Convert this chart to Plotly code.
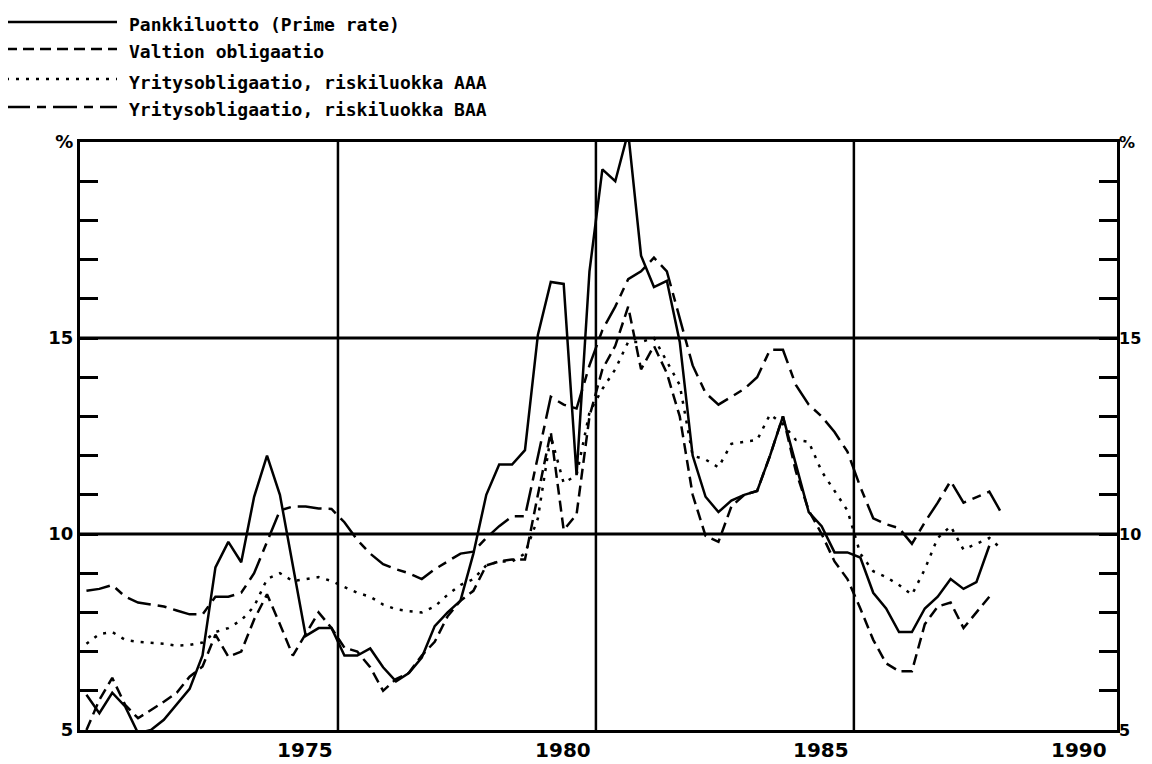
import plotly.graph_objects as go

# ---- data (quarterly, 1971Q1 ... 1988Q4), percent ----
quarters = [f"{1971 + i // 4}Q{i % 4 + 1}" for i in range(72)]

prime_rate = [5.9, 5.43, 5.95, 5.6, 4.92, 5.0, 5.26, 5.65, 6.05, 6.9, 9.15, 9.8,
              9.28, 10.95, 12.0, 11.0, 9.2, 7.4, 7.6, 7.6, 6.9, 6.9, 7.08, 6.6,
              6.24, 6.45, 6.85, 7.65, 8.0, 8.3, 9.5, 11.0, 11.77, 11.77, 12.14, 15.08,
              16.43, 16.38, 11.5, 16.7, 19.3, 19.0, 20.25, 17.1, 16.3, 16.46, 14.9, 12.0,
              10.95, 10.56, 10.85, 11.0, 11.1, 12.0, 13.0, 11.8, 10.56, 10.2, 9.53, 9.53,
              9.4, 8.5, 8.1, 7.5, 7.5, 8.1, 8.4, 8.85, 8.6, 8.77, 9.7, None]

government_bond = [5.0, 5.77, 6.33, 5.64, 5.3, 5.5, 5.72, 5.95, 6.36, 6.62, 7.43, 6.87,
                   7.0, 7.82, 8.46, 7.7, 6.9, 7.45, 8.0, 7.6, 7.1, 7.0, 6.6, 6.0,
                   6.3, 6.46, 6.9, 7.25, 7.9, 8.3, 8.55, 9.2, 9.3, 9.35, 9.35, 11.0,
                   12.6, 10.1, 10.5, 13.0, 14.2, 14.8, 15.8, 14.2, 14.8, 14.1, 13.0, 11.0,
                   9.95, 9.8, 10.7, 11.0, 11.1, 12.0, 13.0, 11.6, 10.6, 10.0, 9.3, 8.85,
                   8.1, 7.3, 6.7, 6.5, 6.5, 7.7, 8.15, 8.25, 7.6, 8.0, 8.4, None]

corporate_aaa = [7.2, 7.45, 7.5, 7.3, 7.25, 7.23, 7.2, 7.15, 7.17, 7.23, 7.5, 7.6,
                 7.8, 8.15, 8.85, 9.0, 8.8, 8.85, 8.9, 8.8, 8.65, 8.5, 8.4, 8.2,
                 8.08, 8.03, 8.0, 8.15, 8.45, 8.7, 8.85, 9.2, 9.3, 9.3, 9.5, 10.4,
                 12.5, 11.3, 11.5, 13.1, 13.7, 14.2, 14.9, 14.9, 15.0, 14.4, 13.8, 12.0,
                 11.9, 11.7, 12.3, 12.35, 12.4, 13.05, 12.8, 12.4, 12.35, 11.6, 11.1, 10.6,
                 9.5, 9.05, 8.9, 8.7, 8.45, 9.1, 9.9, 10.2, 9.6, 9.75, 9.9, 9.6]

corporate_baa = [8.55, 8.6, 8.7, 8.4, 8.25, 8.2, 8.15, 8.05, 7.95, 7.95, 8.4, 8.4,
                 8.5, 9.0, 9.8, 10.6, 10.7, 10.7, 10.65, 10.64, 10.3, 9.85, 9.5, 9.23,
                 9.1, 9.0, 8.85, 9.1, 9.3, 9.5, 9.55, 9.9, 10.2, 10.45, 10.45, 12.0,
                 13.5, 13.3, 13.2, 14.3, 15.2, 15.8, 16.5, 16.7, 17.05, 16.7, 15.5, 14.3,
                 13.6, 13.3, 13.5, 13.7, 14.0, 14.7, 14.7, 13.8, 13.3, 13.0, 12.6, 12.1,
                 11.2, 10.4, 10.25, 10.15, 9.75, 10.3, 10.8, 11.35, 10.8, 10.95, 11.08, 10.5]

series_names = ["Pankkiluotto (Prime rate)", "Valtion obligaatio",
                "Yritysobligaatio, riskiluokka AAA", "Yritysobligaatio, riskiluokka BAA"]

x_tick_years = [1975, 1980, 1985, 1990]
x_grid_years = [1976, 1981, 1986]
y_tick_values = list(range(5, 21))
y_labelled = {5: "5", 10: "10", 15: "15", 20: "%"}
y_grid_values = [10, 15]

# quarter midpoints as decimal years
x_vals = [int(q[:4]) + (int(q[-1]) - 0.5) / 4 for q in quarters]

# ---- styles ----
dashes = ["solid", "11px,6px", "3px,7px", "24px,7px,9px,7px"]
FONT_MONO = "DejaVu Sans Mono"
FONT_AX = "DejaVu Sans"
LW = 2.5
tick_font = dict(family=FONT_AX, size=18, color="black", weight="bold")
right_font = dict(family=FONT_AX, size=16, color="black", weight="bold")

# the page body has an 8px margin: the figure is made 8px smaller and shifted accordingly
BODY = 8
FIG_W, FIG_H = 1152 - BODY, 764 - BODY
PLOT_L, PLOT_R, PLOT_T, PLOT_B = 80 - BODY, 1117 - BODY, 142 - BODY, 730 - BODY
plot_w, plot_h = float(PLOT_R - PLOT_L), float(PLOT_B - PLOT_T)

fig = go.Figure()
all_series = [prime_rate, government_bond, corporate_aaa, corporate_baa]
for k, (name, vals) in enumerate(zip(series_names, all_series)):
    fig.add_trace(go.Scatter(
        x=x_vals, y=vals, mode="lines", name=name,
        line=dict(color="black", width=LW, dash=dashes[k]),
        connectgaps=False, showlegend=False,
        yaxis="y2" if k == 3 else "y",
    ))

ytext = [y_labelled.get(v, "") for v in y_tick_values]

axis_common = dict(range=[5, 20], tickmode="array", tickvals=y_tick_values,
                   ticks="inside", ticklen=18, tickwidth=3, tickcolor="black",
                   showgrid=False, zeroline=False, showline=True, linewidth=3, linecolor="black",
                   automargin=False, ticklabelstandoff=0, tickfont=tick_font)

fig.update_layout(
    width=FIG_W, height=FIG_H,
    margin=dict(l=PLOT_L, r=FIG_W - PLOT_R, t=PLOT_T, b=FIG_H - PLOT_B, autoexpand=False),
    plot_bgcolor="white", paper_bgcolor="white",
    xaxis=dict(range=[1971, 1991.1], tickmode="array",
               tickvals=[y + 0.36 for y in x_tick_years],
               ticktext=[str(y) for y in x_tick_years],
               ticks="", showgrid=False, zeroline=False, automargin=False,
               showline=True, linewidth=3, linecolor="black", mirror=True,
               tickfont=dict(family=FONT_AX, size=20, color="black", weight="bold")),
    yaxis=dict(side="left", ticktext=ytext, **axis_common),
    yaxis2=dict(side="right", overlaying="y", ticktext=[""] * len(y_tick_values),
                **axis_common),
)

# right-hand axis labels, placed close to the frame
for v in y_tick_values:
    if v in y_labelled:
        fig.add_annotation(xref="paper", yref="y", x=1 + 1 / plot_w, y=v,
                           text=y_labelled[v], showarrow=False, xanchor="left",
                           yanchor="middle", font=right_font,
                           borderpad=0)

# grid lines
for gx in x_grid_years:
    fig.add_shape(type="line", xref="x", yref="paper", x0=gx, x1=gx, y0=0, y1=1,
                  line=dict(color="black", width=2.5), layer="below")
for gy in y_grid_values:
    fig.add_shape(type="line", xref="paper", yref="y", x0=0, x1=1, y0=gy, y1=gy,
                  line=dict(color="black", width=3), layer="below")

# custom legend (long line samples, as in the original); positions in window pixels
def px_to_paper(px, py):
    return (px - BODY - PLOT_L) / plot_w, (PLOT_B - (py - BODY)) / plot_h

legend_rows_py = [22, 49, 79, 107]
for k, name in enumerate(series_names):
    py = legend_rows_py[k]
    x0, y0 = px_to_paper(6, py)
    x1, _ = px_to_paper(117, py)
    fig.add_shape(type="line", xref="paper", yref="paper", x0=x0, x1=x1, y0=y0, y1=y0,
                  line=dict(color="black", width=LW, dash=dashes[k]))
    tx, ty = px_to_paper(127, py + 3)
    fig.add_annotation(xref="paper", yref="paper", x=tx, y=ty, text=name,
                       xanchor="left", yanchor="middle", showarrow=False,
                       font=dict(family=FONT_MONO, size=18, color="black", weight="bold"))

# keep the page free of scrollbars so the full figure stays visible
fig.write_html("out.html",
               post_script="document.documentElement.style.overflow='hidden';"
                           "document.body.style.overflow='hidden';")
